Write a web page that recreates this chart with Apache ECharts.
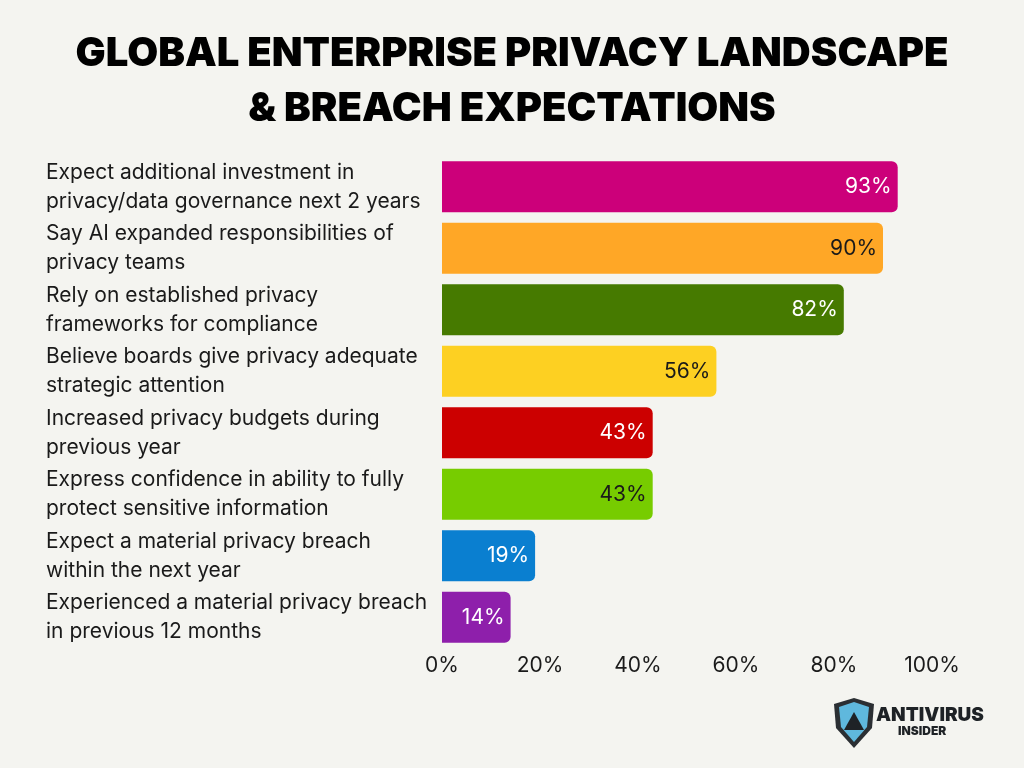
<!DOCTYPE html>
<html>
<head>
<meta charset="utf-8">
<script src="https://cdn.jsdelivr.net/npm/echarts@6/dist/echarts.min.js"></script>
<style>
  html, body { margin: 0; padding: 0; background: #f4f4f0; }
  #main { width: 1024px; height: 768px; }
</style>
</head>
<body>
<div id="main"></div>
<script>
// data, top bar first
var categories = [
  'Expect additional investment in\nprivacy/data governance next 2 years',
  'Say AI expanded responsibilities of\nprivacy teams',
  'Rely on established privacy\nframeworks for compliance',
  'Believe boards give privacy adequate\nstrategic attention',
  'Increased privacy budgets during\nprevious year',
  'Express confidence in ability to fully\nprotect sensitive information',
  'Expect a material privacy breach\nwithin the next year',
  'Experienced a material privacy breach\nin previous 12 months'
];
var values = [93, 90, 82, 56, 43, 43, 19, 14];
var barColors = ['#cc007a', '#ffa726', '#467a00', '#fdd022', '#cc0000', '#77cc00', '#0a7fd0', '#8e1fab'];
var labelColors = ['#ffffff', '#1a1a1a', '#ffffff', '#1a1a1a', '#ffffff', '#1a1a1a', '#ffffff', '#ffffff'];
var ticks = [0, 20, 40, 60, 80, 100];

var chart = echarts.init(document.getElementById('main'));

var option = {
  backgroundColor: '#f4f4f0',
  title: {
    text: 'GLOBAL ENTERPRISE PRIVACY LANDSCAPE\n& BREACH EXPECTATIONS',
    left: 'center',
    top: 21,
    textStyle: {
      fontFamily: 'Inter',
      fontWeight: 900,
      fontSize: 40,
      lineHeight: 55,
      color: '#000000'
    }
  },
  grid: {
    left: 442,
    right: 92,
    top: 156,
    bottom: 120
  },
  xAxis: {
    type: 'value',
    min: ticks[0],
    max: ticks[ticks.length - 1],
    interval: 20,
    splitLine: { show: false },
    axisLine: { show: false },
    axisTick: { show: false },
    axisLabel: {
      margin: 7,
      fontFamily: 'Inter',
      fontSize: 21,
      color: '#1a1a1a',
      formatter: '{value}%'
    }
  },
  yAxis: {
    type: 'category',
    inverse: true,
    data: categories,
    axisLine: { show: false },
    axisTick: { show: false },
    axisLabel: {
      align: 'left',
      margin: 396,
      fontFamily: 'Inter',
      fontSize: 21,
      lineHeight: 29,
      color: '#1a1a1a'
    }
  },
  series: [
    {
      type: 'bar',
      barCategoryGap: '17%',
      data: values.map(function (v, i) {
        return {
          value: v,
          itemStyle: { color: barColors[i], borderRadius: [0, 6, 6, 0] },
          label: { color: labelColors[i] }
        };
      }),
      label: {
        show: true,
        position: 'insideRight',
        distance: 6,
        fontFamily: 'Inter',
        fontSize: 21,
        formatter: '{c}%'
      }
    }
  ],
  graphic: [
    {
      type: 'group',
      left: 834,
      top: 698,
      children: [
        {
          type: 'polygon',
          shape: { points: [[2, 6], [22, 0], [42, 6], [40, 30], [22, 50], [4, 30]] },
          style: { fill: '#2b2f33' }
        },
        {
          type: 'polygon',
          shape: { points: [[7, 9], [22, 4], [37, 9], [35, 29], [22, 44], [9, 29]] },
          style: { fill: '#5fb8dd' }
        },
        {
          type: 'polygon',
          shape: { points: [[22, 14], [32, 32], [12, 32]] },
          style: { fill: '#1e2226' }
        },
        {
          type: 'text',
          x: 44,
          y: 8,
          style: { text: 'ANTIVIRUS', fontFamily: 'Inter', fontWeight: 900, fontSize: 19, fill: '#1e2226' }
        },
        {
          type: 'text',
          x: 66,
          y: 27,
          style: { text: 'INSIDER', fontFamily: 'Inter', fontWeight: 900, fontSize: 12, fill: '#1e2226' }
        }
      ]
    }
  ]
};

chart.setOption(option);
</script>
</body>
</html>
